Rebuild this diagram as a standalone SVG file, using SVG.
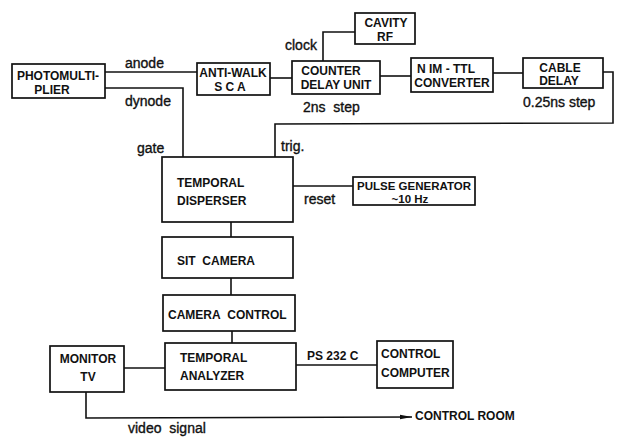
<svg xmlns="http://www.w3.org/2000/svg" width="625" height="437" viewBox="0 0 625 437">
<defs>
<style>
.box{fill:none;stroke:#111;stroke-width:1.7}
.ln{fill:none;stroke:#111;stroke-width:1.6}
.t{font-family:"Liberation Sans",Arial,sans-serif;font-size:12px;font-weight:bold;fill:#111}
.c{text-anchor:middle}
.lab{font-family:"Liberation Sans",Arial,sans-serif;font-size:14px;fill:#111;stroke:#111;stroke-width:0.35}
.sm{font-size:11.5px}
</style>
<marker id="arr" markerWidth="12" markerHeight="6" refX="12" refY="3" orient="auto" markerUnits="userSpaceOnUse">
<path d="M0,0.8 L12,3 L0,5.2 Z" fill="#111"/>
</marker>
</defs>
<rect width="625" height="437" fill="#fff"/>
<g id="connectors">
<polyline class="ln" points="105,72 197,72"/>
<polyline class="ln" points="105,88 183,88 183,157"/>
<polyline class="ln" points="270,78 292,78"/>
<polyline class="ln" points="323,61 323,32 355,32"/>
<polyline class="ln" points="380,76 411,76"/>
<polyline class="ln" points="493,73 523,73"/>
<polyline class="ln" points="603,72 613,72 613,123 275,124 275,157"/>
<polyline class="ln" points="293,186 353,186"/>
<polyline class="ln" points="231,222 231,237"/>
<polyline class="ln" points="231,278 231,295"/>
<polyline class="ln" points="232,331 232,343"/>
<polyline class="ln" points="124,368 165,368"/>
<polyline class="ln" points="296,365 377,365"/>
<polyline class="ln" points="86,392 86,418 412,417" marker-end="url(#arr)"/>
<text class="lab" x="125" y="68">anode</text>
<text class="lab" x="125" y="106">dynode</text>
<text class="lab" x="137" y="153">gate</text>
<text class="lab" x="281" y="151">trig.</text>
<text class="lab" x="285" y="50">clock</text>
<text class="lab" x="303" y="112">2ns&#160;&#160;step</text>
<text class="lab" x="523" y="107">0.25ns&#160;step</text>
<text class="lab" x="304" y="204">reset</text>
<text class="t" x="307" y="360">PS 232 C</text>
<text class="lab" x="128" y="433">video&#160;&#160;signal</text>
<text class="t" x="415" y="420">CONTROL ROOM</text>
</g>
<g id="photomultiplier">
<rect class="box" x="12" y="64" width="93" height="34"/>
<text class="t c" x="58" y="80">PHOTOMULTI-</text>
<text class="t c" x="52" y="94">PLIER</text>
</g>
<g id="antiwalk">
<rect class="box" x="197" y="63" width="73" height="32"/>
<text class="t c" x="233" y="77">ANTI-WALK</text>
<text class="t c" x="230" y="91">S C A</text>
</g>
<g id="counter">
<rect class="box" x="292" y="61" width="88" height="33"/>
<text class="t c" x="331" y="75">COUNTER</text>
<text class="t c" x="336" y="89">DELAY UNIT</text>
</g>
<g id="cavity">
<rect class="box" x="355" y="13" width="60" height="31"/>
<text class="t c" x="386" y="27">CAVITY</text>
<text class="t c" x="385" y="41">RF</text>
</g>
<g id="nimttl">
<rect class="box" x="411" y="58" width="82" height="34"/>
<text class="t c" x="446" y="73">N IM - TTL</text>
<text class="t c" x="452" y="87">CONVERTER</text>
</g>
<g id="cabledelay">
<rect class="box" x="523" y="58" width="80" height="30"/>
<text class="t c" x="560" y="72">CABLE</text>
<text class="t c" x="559" y="85">DELAY</text>
</g>
<g id="disperser">
<rect class="box" x="162" y="157" width="131" height="65"/>
<text class="t" x="177" y="187">TEMPORAL</text>
<text class="t" x="177" y="205">DISPERSER</text>
</g>
<g id="pulsegen">
<rect class="box" x="353" y="177" width="122" height="28"/>
<text class="t c sm" x="414" y="189.5">PULSE GENERATOR</text>
<text class="t c sm" x="410" y="203">~10 Hz</text>
</g>
<g id="sitcamera">
<rect class="box" x="162" y="237" width="131" height="41"/>
<text class="t" x="177" y="265">SIT&#160;&#160;CAMERA</text>
</g>
<g id="cameracontrol">
<rect class="box" x="163" y="295" width="132" height="36"/>
<text class="t" x="168" y="319">CAMERA&#160;&#160;CONTROL</text>
</g>
<g id="analyzer">
<rect class="box" x="165" y="343" width="131" height="47"/>
<text class="t" x="180" y="362">TEMPORAL</text>
<text class="t" x="180" y="380">ANALYZER</text>
</g>
<g id="monitor">
<rect class="box" x="50" y="346" width="74" height="46"/>
<text class="t c" x="88" y="363">MONITOR</text>
<text class="t c" x="88" y="381">TV</text>
</g>
<g id="computer">
<rect class="box" x="377" y="341" width="76" height="47"/>
<text class="t" x="381" y="358">CONTROL</text>
<text class="t" x="381" y="377">COMPUTER</text>
</g>
</svg>
